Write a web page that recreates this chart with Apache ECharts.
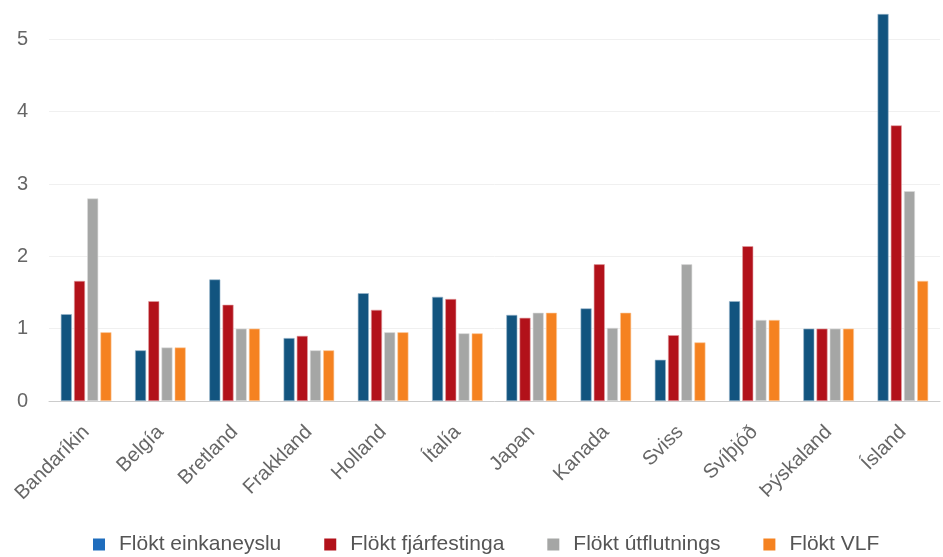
<!DOCTYPE html>
<html>
<head>
<meta charset="utf-8">
<style>
  html, body { margin: 0; padding: 0; background: #fff; }
  #chart { width: 943px; height: 557px; }
</style>
<script src="https://cdn.jsdelivr.net/npm/echarts@6/dist/echarts.min.js"></script>
</head>
<body>
<div id="chart"></div>
<script>
// Countries along the x axis
const categories = ['Bandaríkin', 'Belgía', 'Bretland', 'Frakkland', 'Holland', 'Ítalía',
  'Japan', 'Kanada', 'Sviss', 'Svíþjóð', 'Þýskaland', 'Ísland'];

// Volatility of each component, relative to the reference country (= 1)
const einkaneysla = [1.20, 0.70, 1.68, 0.87, 1.49, 1.44, 1.19, 1.28, 0.57, 1.38, 1.00, 5.35];
const fjarfesting = [1.66, 1.38, 1.33, 0.90, 1.26, 1.41, 1.15, 1.89, 0.91, 2.14, 1.00, 3.81];
const utflutningur = [2.80, 0.74, 1.00, 0.70, 0.95, 0.935, 1.22, 1.01, 1.89, 1.12, 1.00, 2.90];
const vlf = [0.95, 0.74, 1.00, 0.70, 0.95, 0.935, 1.22, 1.22, 0.81, 1.12, 1.00, 1.66];

const yTicks = [0, 1, 2, 3, 4, 5];

const seriesDefs = [
  { name: 'Flökt einkaneyslu', data: einkaneysla, color: '#12547f', border: '#9bb7cc', legend: '#1f6dbd' },
  { name: 'Flökt fjárfestinga', data: fjarfesting, color: '#b2111a', border: '#e09da1', legend: '#b2111a' },
  { name: 'Flökt útflutnings', data: utflutningur, color: '#a5a6a5', border: '#dcdcdc', legend: '#a5a6a5' },
  { name: 'Flökt VLF', data: vlf, color: '#f58220', border: '#fbc99c', legend: '#f58220' }
];

const chart = echarts.init(document.getElementById('chart'), null, { renderer: 'canvas' });

chart.setOption({
  animation: false,
  backgroundColor: '#ffffff',
  textStyle: { fontFamily: 'Liberation Sans, Arial, sans-serif' },
  grid: { left: 49, right: 3, top: 14, bottom: 156, containLabel: false },
  legend: {
    top: 529,
    left: 88,
    itemWidth: 12,
    itemHeight: 12,
    itemGap: 43,
    icon: 'rect',
    textStyle: { fontSize: 21, color: '#555555', padding: [0, 0, 0, 9] },
    data: seriesDefs.map(s => ({ name: s.name, itemStyle: { color: s.legend, borderWidth: 0 } }))
  },
  xAxis: {
    type: 'category',
    data: categories,
    axisLine: { lineStyle: { color: '#cccccc', width: 1 } },
    axisTick: { show: false },
    axisLabel: {
      rotate: 45,
      interval: 0,
      fontSize: 20,
      color: '#666666',
      margin: 28
    }
  },
  yAxis: {
    type: 'value',
    min: 0,
    max: 5.35,
    axisLine: { show: false },
    axisTick: { show: false, customValues: yTicks },
    splitLine: { lineStyle: { color: '#f0f0f0', width: 1 } },
    axisLabel: {
      fontSize: 20,
      color: '#666666',
      margin: 21,
      customValues: yTicks
    }
  },
  series: seriesDefs.map(s => ({
    name: s.name,
    type: 'bar',
    data: s.data,
    barWidth: 11,
    barGap: '20%',
    itemStyle: { color: s.color, borderColor: s.border, borderWidth: 0.6 }
  }))
});
</script>
</body>
</html>
